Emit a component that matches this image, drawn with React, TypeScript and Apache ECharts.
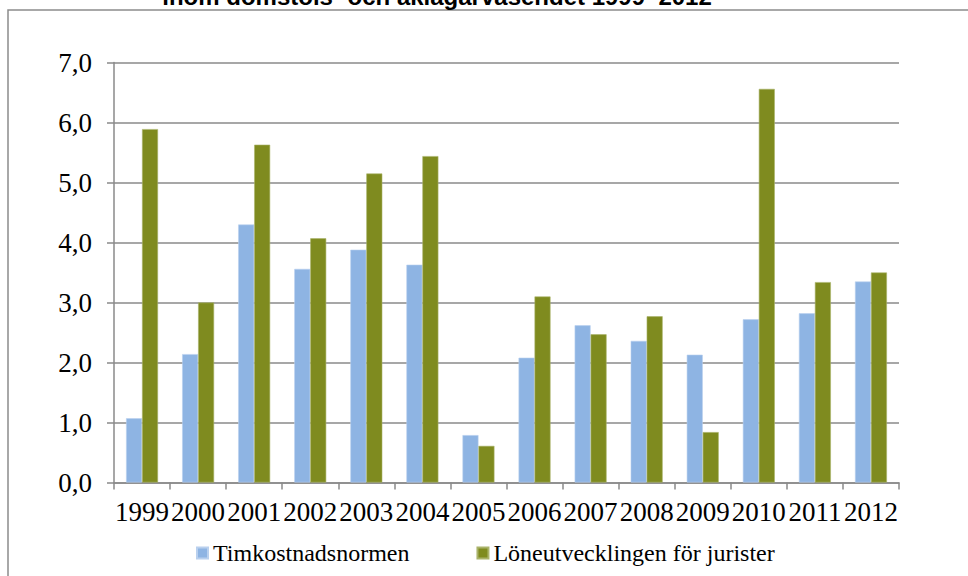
import React, { useEffect, useRef } from "react";
import * as echarts from "echarts";

const categories = ["1999", "2000", "2001", "2002", "2003", "2004", "2005", "2006", "2007", "2008", "2009", "2010", "2011", "2012"];
const timkostnad = [1.07, 2.14, 4.30, 3.56, 3.88, 3.63, 0.79, 2.08, 2.62, 2.36, 2.13, 2.72, 2.82, 3.35];
const loneutveckling = [5.89, 3.00, 5.63, 4.07, 5.15, 5.44, 0.61, 3.10, 2.47, 2.77, 0.84, 6.56, 3.34, 3.50];
const seriesNames = ["Timkostnadsnormen", "Löneutvecklingen för jurister"];
const titleText = "inom domstols- och åklagarväsendet 1999–2012";

const serif = "'Liberation Serif', 'Times New Roman', serif";
const gridColor = "#8a8a8a";

export default function App() {
  const ref = useRef<HTMLDivElement>(null);
  useEffect(() => {
    if (!ref.current) return;
    const chart = echarts.init(ref.current, null, { renderer: "svg" });
    chart.setOption({
      animation: false,
      backgroundColor: "#ffffff",
      grid: { left: 114, right: 69, top: 62.5, bottom: 93.5, containLabel: false },
      legend: {
        left: 191,
        top: 536,
        itemWidth: 11,
        itemHeight: 11,
        itemGap: 67,
        icon: "rect",
        textStyle: { fontFamily: serif, fontSize: 24, color: "#000" },
        data: seriesNames,
      },
      xAxis: {
        type: "category",
        data: categories,
        axisLine: { lineStyle: { color: gridColor, width: 1.5 } },
        axisTick: { show: true, length: 7, lineStyle: { color: gridColor, width: 1.5 } },
        axisLabel: { interval: 0, fontFamily: serif, fontSize: 27, color: "#000", margin: 16 },
      },
      yAxis: {
        type: "value",
        min: 0,
        max: 7,
        interval: 1,
        axisLine: { show: true, lineStyle: { color: gridColor, width: 1.5 } },
        axisTick: { show: true, length: 7, lineStyle: { color: gridColor, width: 1.5 } },
        splitLine: { lineStyle: { color: gridColor, width: 1.5 } },
        axisLabel: {
          fontFamily: serif,
          fontSize: 27,
          color: "#000",
          margin: 22,
          formatter: (v: number) => v.toFixed(1).replace(".", ","),
        },
      },
      series: [
        {
          name: seriesNames[0],
          type: "bar",
          data: timkostnad,
          barGap: "0%",
          barCategoryGap: "43%",
          itemStyle: { color: "#8EB4E3", borderColor: "#b9d0ee", borderWidth: 0.6 },
        },
        {
          name: seriesNames[1],
          type: "bar",
          data: loneutveckling,
          barGap: "0%",
          barCategoryGap: "43%",
          itemStyle: { color: "#7F8B1F", borderColor: "#aab36a", borderWidth: 0.6 },
        },
      ],
      graphic: [
        {
          type: "rect",
          shape: { x: 8, y: 10, width: 1100, height: 700 },
          style: { fill: "none", stroke: "#8c8c8c", lineWidth: 1.5 },
          z: 0,
          silent: true,
        },
        {
          type: "text",
          x: 437,
          y: -3.5,
          style: {
            text: titleText,
            fontFamily: "'Liberation Sans', Arial, sans-serif",
            fontWeight: "bold",
            fontSize: 24,
            fill: "#000",
            align: "center",
            verticalAlign: "middle",
          },
          z: 10,
        },
      ],
    });
    return () => chart.dispose();
  }, []);
  return <div ref={ref} style={{ position: "fixed", left: 0, top: 0, width: 968, height: 576 }} />;
}
